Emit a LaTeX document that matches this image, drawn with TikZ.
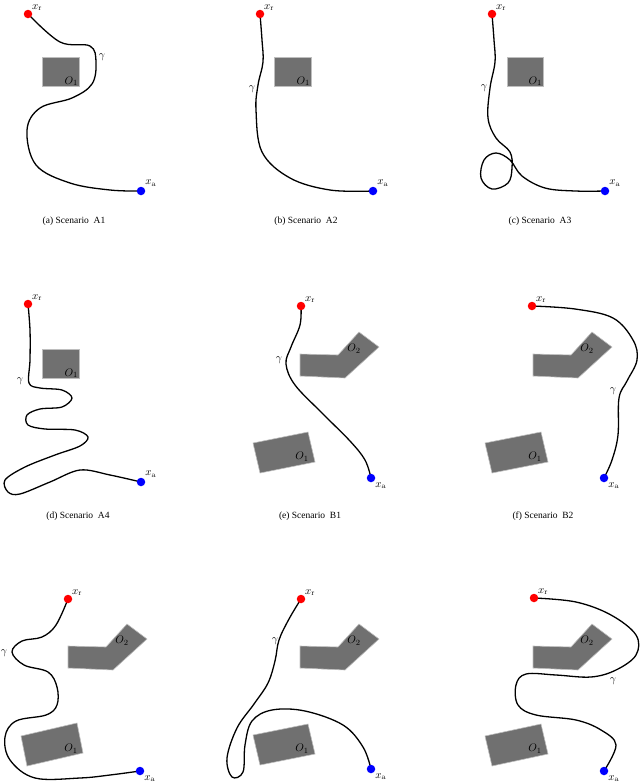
\documentclass[tikz,border=0pt]{standalone}
\usepackage{fontspec}
\newfontfamily\capfont{Liberation Serif}
\begin{document}
\begin{tikzpicture}[x=1pt,y=-1pt,
  obst/.style={fill={rgb,255:red,112;green,112;blue,112},draw={rgb,255:red,190;green,190;blue,190},line width=0.6pt},
  traj/.style={line width=1.3pt,line join=round},
  rdot/.style={circle,fill=red,inner sep=0pt,minimum size=8.5pt},
  bdot/.style={circle,fill=blue,inner sep=0pt,minimum size=8.5pt},
  lbl/.style={inner sep=1pt,font=\fontsize{11}{13}\selectfont},
  rlbl/.style={lbl,anchor=west,yshift=6.5pt,xshift=-1.5pt},
  captext/.style={font=\capfont\fontsize{9.5}{11}\selectfont}]
\useasboundingbox (0,0) rectangle (640,782);

% ---------- (a) ----------
\coordinate (ra) at (28,14); \coordinate (aa) at (141,191);
\draw[obst] (42,57) rectangle (79,86);
\node[lbl,anchor=south east] (oa) at (79,87) {$O_1$};
\draw[traj] plot[smooth,tension=0.6] coordinates {(ra) (60,42) (90,46) (96,62) (92,84) (72,98) (40,108) (27,130) (36,165) (70,183) (110,190) (aa)};
\node[rdot] (xra) at (ra) {}; \node[bdot] (xaa) at (aa) {};
\node[rlbl] at (xra.east) {$x_\mathrm{r}$};
\node[lbl,anchor=south west] at (xaa.north east) {$x_\mathrm{a}$};
\node[lbl] (ga) at (102,57) {$\gamma$};
\node[captext] (ca) at (74,221) {(a) Scenario\ \ A1};

% ---------- (b) ----------
\coordinate (rb) at (260,14); \coordinate (ab) at (373,191);
\draw[obst] (274,57) rectangle (311,86);
\node[lbl,anchor=south east] (ob) at (311,87) {$O_1$};
\draw[traj] plot[smooth,tension=0.6] coordinates {(rb) (262,40) (263,62) (258,85) (256,110) (262,152) (290,178) (330,190) (ab)};
\node[rdot] (xrb) at (rb) {}; \node[bdot] (xab) at (ab) {};
\node[rlbl] at (xrb.east) {$x_\mathrm{r}$};
\node[lbl,anchor=south west] at (xab.north east) {$x_\mathrm{a}$};
\node[lbl] (gb) at (252,89) {$\gamma$};
\node[captext] (cb) at (306,221) {(b) Scenario\ \ A2};

% ---------- (c) ----------
\coordinate (rc) at (492,14); \coordinate (ac) at (605,191);
\draw[obst] (507,57) rectangle (543,86);
\node[lbl,anchor=south east] (oc) at (543,87) {$O_1$};
\draw[traj] plot[smooth,tension=0.6] coordinates {(rc) (494,40) (495,62) (490,88) (488,118) (496,138) (510,152) (512,168) (508,183) (492,189) (481,178) (484,160) (496,153) (510,160) (522,176) (545,188) (575,191) (ac)};
\node[rdot] (xrc) at (rc) {}; \node[bdot] (xac) at (ac) {};
\node[rlbl] at (xrc.east) {$x_\mathrm{r}$};
\node[lbl,anchor=south west] at (xac.north east) {$x_\mathrm{a}$};
\node[lbl] (gc) at (484,88) {$\gamma$};
\node[captext] (cc) at (540,221) {(c) Scenario\ \ A3};

% ---------- (d) ----------
\coordinate (rd) at (28,304); \coordinate (ad) at (141,482);
\draw[obst] (42,349) rectangle (79,378);
\node[lbl,anchor=south east] (od) at (79,379) {$O_1$};
\draw[traj] plot[smooth,tension=0.55] coordinates {(rd) (30,330) (30,360) (29,383) (40,388) (62,390) (72,398) (62,407) (40,409) (27,415) (28,425) (45,429) (75,430) (88,437) (80,446) (55,455) (25,467) (5,480) (8,492) (20,494) (50,482) (80,470) (110,475) (ad)};
\node[rdot] (xrd) at (rd) {}; \node[bdot] (xad) at (ad) {};
\node[rlbl] at (xrd.east) {$x_\mathrm{r}$};
\node[lbl,anchor=south west] at (xad.north east) {$x_\mathrm{a}$};
\node[lbl] (gd) at (20,381) {$\gamma$};
\node[captext] (cd) at (78,516) {(d) Scenario\ \ A4};

% ---------- (e) ----------
\coordinate (re) at (301,306); \coordinate (ae) at (371,478);
\draw[obst] (300,354) -- (338,355) -- (359,332) -- (379,347) -- (345,378) -- (300,376) -- cycle;
\node[lbl] (o2e) at (354,349) {$O_2$};
\draw[obst] (253,443) -- (308,432) -- (315,462) -- (260,473) -- cycle;
\node[lbl] (o1e) at (302,457) {$O_1$};
\draw[traj] plot[smooth,tension=0.6] coordinates {(re) (300,325) (291,347) (286,364) (295,385) (322,413) (350,441) (365,460) (ae)};
\node[rdot] (xre) at (re) {}; \node[bdot] (xae) at (ae) {};
\node[rlbl] at (xre.east) {$x_\mathrm{r}$};
\node[lbl,anchor=north west] at (xae.south east) {$x_\mathrm{a}$};
\node[lbl] (ge) at (279,360) {$\gamma$};
\node[captext] (ce) at (310,516) {(e) Scenario\ \ B1};

% ---------- (f) ----------
\coordinate (rf) at (532,306); \coordinate (af) at (604,478);
\draw[obst] (533,354) -- (571,355) -- (592,332) -- (612,347) -- (578,378) -- (533,376) -- cycle;
\node[lbl] (o2f) at (587,349) {$O_2$};
\draw[obst] (485,443) -- (541,432) -- (548,462) -- (492,473) -- cycle;
\node[lbl] (o1f) at (535,457) {$O_1$};
\draw[traj] plot[smooth,tension=0.6] coordinates {(rf) (575,309) (613,318) (633,340) (637,360) (627,381) (619,398) (618,435) (612,460) (af)};
\node[rdot] (xrf) at (rf) {}; \node[bdot] (xaf) at (af) {};
\node[rlbl] at (xrf.east) {$x_\mathrm{r}$};
\node[lbl,anchor=north west] at (xaf.south east) {$x_\mathrm{a}$};
\node[lbl] (gf) at (613,391) {$\gamma$};
\node[captext] (cf) at (543,516) {(f) Scenario\ \ B2};

% ---------- (g) ----------
\coordinate (rg) at (68,599); \coordinate (ag) at (140,771);
\draw[obst] (68,646) -- (106,647) -- (127,624) -- (147,639) -- (113,670) -- (68,668) -- cycle;
\node[lbl] (o2g) at (122,641) {$O_2$};
\draw[obst] (21,736) -- (77,723) -- (83,753) -- (27,766) -- cycle;
\node[lbl] (o1g) at (71,749) {$O_1$};
\draw[traj] plot[smooth,tension=0.6] coordinates {(rg) (56,625) (42,637) (22,641) (12,652) (24,665) (48,672) (57,687) (57,705) (46,715) (16,721) (5,737) (10,760) (35,778) (80,778) (110,775) (ag)};
\node[rdot] (xrg) at (rg) {}; \node[bdot] (xag) at (ag) {};
\node[rlbl] at (xrg.east) {$x_\mathrm{r}$};
\node[lbl,anchor=north west] at (xag.south east) {$x_\mathrm{a}$};
\node[lbl] (gg) at (4,653) {$\gamma$};

% ---------- (h) ----------
\coordinate (rh) at (301,599); \coordinate (ah) at (371,769);
\draw[obst] (300,646) -- (338,647) -- (359,624) -- (379,639) -- (345,670) -- (300,668) -- cycle;
\node[lbl] (o2h) at (354,641) {$O_2$};
\draw[obst] (253,735) -- (308,724) -- (315,754) -- (260,765) -- cycle;
\node[lbl] (o1h) at (302,749) {$O_1$};
\draw[traj] plot[smooth,tension=0.6] coordinates {(rh) (289,619) (279,640) (275,661) (268,683) (254,704) (237,728) (227,758) (232,777) (243,772) (245,745) (252,721) (272,710) (305,711) (343,725) (363,747) (ah)};
\node[rdot] (xrh) at (rh) {}; \node[bdot] (xah) at (ah) {};
\node[rlbl] at (xrh.east) {$x_\mathrm{r}$};
\node[lbl,anchor=north west] at (xah.south east) {$x_\mathrm{a}$};
\node[lbl] (gh) at (275,641) {$\gamma$};

% ---------- (i) ----------
\coordinate (ri) at (534,598); \coordinate (ai) at (604,771);
\draw[obst] (533,646) -- (571,647) -- (592,624) -- (612,639) -- (578,670) -- (533,668) -- cycle;
\node[lbl] (o2i) at (587,641) {$O_2$};
\draw[obst] (485,736) -- (541,724) -- (548,754) -- (492,766) -- cycle;
\node[lbl] (o1i) at (535,749) {$O_1$};
\draw[traj] plot[smooth,tension=0.6] coordinates {(ri) (576,602) (611,615) (636,635) (636,655) (616,670) (591,677) (556,675) (526,674) (516,685) (518,705) (536,715) (576,720) (601,730) (616,745) (ai)};
\node[rdot] (xri) at (ri) {}; \node[bdot] (xai) at (ai) {};
\node[rlbl] at (xri.east) {$x_\mathrm{r}$};
\node[lbl,anchor=north west] at (xai.south east) {$x_\mathrm{a}$};
\node[lbl] (gi) at (613,681) {$\gamma$};
\end{tikzpicture}
\end{document}
